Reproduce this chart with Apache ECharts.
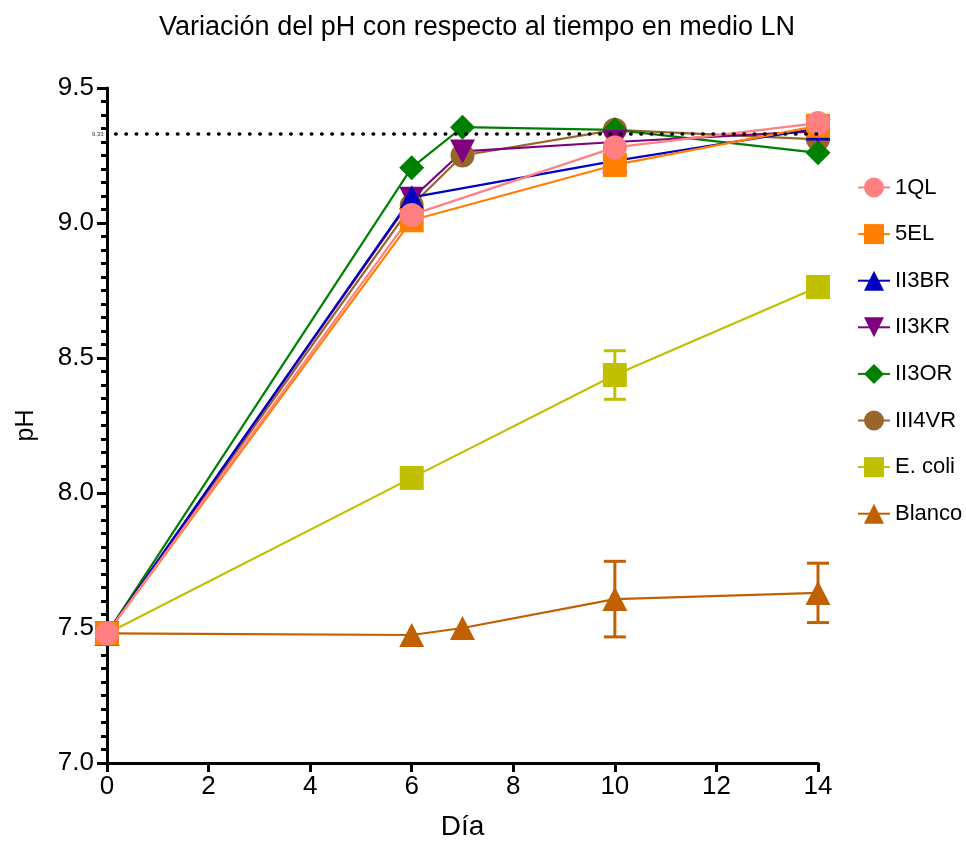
<!DOCTYPE html>
<html><head><meta charset="utf-8">
<script src="https://cdn.jsdelivr.net/npm/echarts@6/dist/echarts.min.js"></script>
<style>html,body{margin:0;padding:0;background:#fff}#c{width:966px;height:854px}</style>
</head><body><div id="c"></div>
<script>
const title = "Variación del pH con respecto al tiempo en medio LN";
const seriesNames = ["1QL","5EL","II3BR","II3KR","II3OR","III4VR","E. coli","Blanco"];
const colors = ["#FF8080","#FF8000","#0000C0","#800080","#008000","#996629","#C0C000","#C06000"];
const symbols = ["circle","rect","triangle","path://M0,0 L10,0 L5,10 Z","diamond","circle","rect","triangle"];
const days4 = [0,6,10,14];
const days5 = [0,6,7,10,14];
const d1QL = [7.48, 9.03, 9.28, 9.37];
const d5EL = [7.48, 9.01, 9.215, 9.36];
const dII3BR = [7.48, 9.095, 9.23, 9.35];
const dII3KR = [7.48, 9.09, 9.265, 9.30, 9.34];
const dII3OR = [7.48, 9.205, 9.355, 9.345, 9.26];
const dIII4VR = [7.48, 9.065, 9.25, 9.345, 9.31];
const dEcoli = [7.48, 8.056, 8.437, 8.763];
const dBlanco = [7.48, 7.474, 7.50, 7.607, 7.63];
const errEcoli = [0, 0, 0.09, 0];
const errBlanco = [0, 0, 0, 0.14, 0.11];
const refLine = 9.33;

const dataDays = [days4,days4,days4,days5,days5,days5,days4,days5];
const dataVals = [d1QL,d5EL,dII3BR,dII3KR,dII3OR,dIII4VR,dEcoli,dBlanco];
const symSizes = [24,24,[25,24],[25,24],25,24,24,[25,24]];

const chart = echarts.init(document.getElementById('c'));
const series = [];
for (let i = seriesNames.length-1; i >= 0; i--) {
  series.push({
    name: seriesNames[i], type: 'line',
    data: dataDays[i].map((d,k)=>[d, dataVals[i][k]]),
    symbol: symbols[i], symbolSize: symSizes[i],
    itemStyle: {color: colors[i], opacity: 1},
    lineStyle: {color: colors[i], width: 2.2},
    showSymbol: true, animation: false, z: 3
  });
}
function errSeries(name, days, vals, errs, color) {
  const data = [];
  days.forEach((d,k)=>{ if (errs[k]>0) data.push([d, vals[k]-errs[k], vals[k]+errs[k]]); });
  return {
    type: 'custom', name: name+'_err', z: 2, animation:false,
    renderItem: function(params, api) {
      const lo = api.coord([api.value(0), api.value(1)]);
      const hi = api.coord([api.value(0), api.value(2)]);
      const w = 11;
      const st = {stroke: color, lineWidth: 3};
      return {type:'group', children:[
        {type:'line', shape:{x1:lo[0],y1:lo[1],x2:hi[0],y2:hi[1]}, style: st},
        {type:'line', shape:{x1:lo[0]-w,y1:lo[1],x2:lo[0]+w,y2:lo[1]}, style: st},
        {type:'line', shape:{x1:hi[0]-w,y1:hi[1],x2:hi[0]+w,y2:hi[1]}, style: st}
      ]};
    },
    encode: {x:0, y:[1,2]},
    data: data
  };
}
series.unshift(errSeries('Blanco', days5, dBlanco, errBlanco, colors[7]));
series.unshift(errSeries('E. coli', days4, dEcoli, errEcoli, colors[6]));
series.push({
  type:'line', name:'ref', data: [], silent:true, animation:false,
  markLine: {
    symbol:['none','none'], silent:true, animation:false,
    lineStyle:{color:'#000', type:[0.5,9.8], width:3.5, cap:'round'},
    label:{show:true, position:'start', formatter: String(refLine), fontSize:6, color:'#333', fontFamily:'Liberation Sans', distance: 12},
    data:[[{coord:[0.17, refLine]},{coord:[14, refLine]}]]
  }
});

chart.setOption({
  animation:false,
  title: {text: title, left: 472, top: 9, textAlign:'center',
    textStyle:{fontFamily:'Liberation Sans', fontSize:27, fontWeight:'normal', color:'#000'}},
  legend: {
    data: seriesNames, orient:'vertical', left: 852, top: 169, itemGap: 19.6,
    itemWidth: 32, itemHeight: 25,
    textStyle:{fontFamily:'Liberation Sans', fontSize:22, color:'#000', lineHeight: 25, padding:[2,0,0,0]}
  },
  grid: {left:107, right:148, top:88, bottom:91, containLabel:false},
  xAxis: {
    type:'value', min:0, max:14, interval:2,
    name:'Día', nameLocation:'middle', nameGap:50,
    nameTextStyle:{fontFamily:'Liberation Sans', fontSize:28, color:'#000'},
    axisLine:{show:true, lineStyle:{color:'#000', width:3}},
    axisTick:{show:true, length:9, lineStyle:{color:'#000', width:3}},
    axisLabel:{fontFamily:'Liberation Sans', fontSize:26, color:'#000', margin:11},
    splitLine:{show:false}
  },
  yAxis: {
    type:'value', min:7, max:9.5, interval:0.5,
    name:'pH', nameLocation:'middle', nameGap:68,
    nameTextStyle:{fontFamily:'Liberation Sans', fontSize:25, color:'#000'},
    axisLine:{show:true, lineStyle:{color:'#000', width:3}},
    axisTick:{show:true, length:10, lineStyle:{color:'#000', width:3}},
    minorTick:{show:true, splitNumber:10, length:6, lineStyle:{color:'#000', width:3}},
    axisLabel:{fontFamily:'Liberation Sans', fontSize:26, color:'#000', margin:13,
      formatter: v => v.toFixed(1)},
    splitLine:{show:false}
  },
  series: series
});
</script></body></html>
